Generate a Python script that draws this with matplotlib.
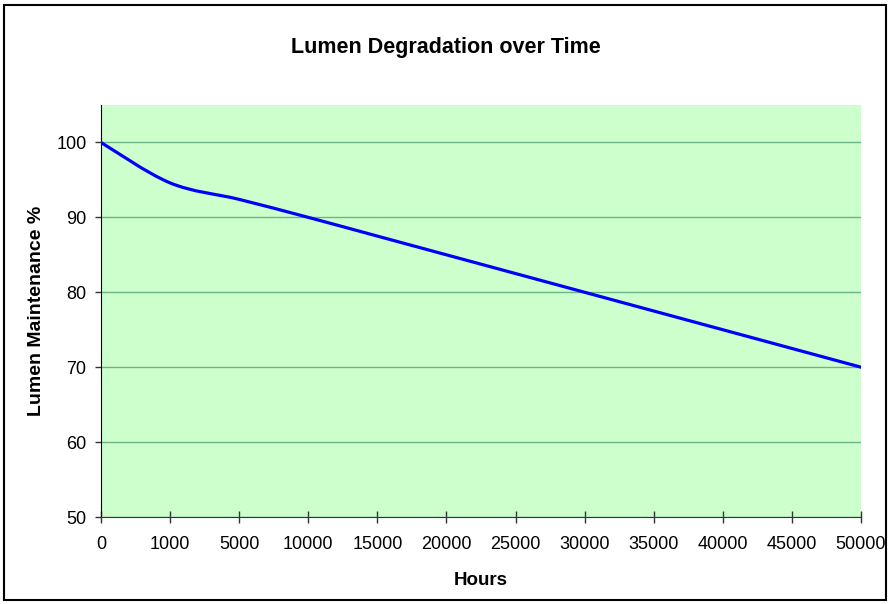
import numpy as np
import matplotlib
matplotlib.use("Agg")
import matplotlib.pyplot as plt
from matplotlib.path import Path
from matplotlib.patches import PathPatch, Rectangle

# chart data (category axis, as in the original spreadsheet chart)
hours = ["0", "1000", "5000", "10000", "15000", "20000", "25000",
         "30000", "35000", "40000", "45000", "50000"]
lumen_pct = [100, 94.6, 92.4, 90, 87.5, 85, 82.5, 80, 77.5, 75, 72.5, 70]
y_ticks = [50, 60, 70, 80, 90, 100]

plt.rcParams["font.family"] = ["Liberation Sans", "DejaVu Sans"]


def smooth_path(xs, ys):
    """Excel-style smoothed line: cubic Bezier segments through each point."""
    pts = np.column_stack([xs, ys]).astype(float)
    padded = np.vstack([pts[0], pts, pts[-1]])
    verts = [pts[0]]
    codes = [Path.MOVETO]
    for i in range(len(pts) - 1):
        p0, p1, p2, p3 = padded[i], padded[i + 1], padded[i + 2], padded[i + 3]
        c1 = p1 + (p2 - p0) / 6
        c2 = p2 - (p3 - p1) / 6
        verts += [c1, c2, p2]
        codes += [Path.CURVE4] * 3
    return Path(verts, codes)


def plot_data():
    fig = plt.figure(figsize=(8.91, 6.04), dpi=100)
    ax = fig.add_axes([101 / 891, 87 / 604, 760 / 891, 412 / 604])
    ax.set_facecolor("#ccffcc")

    x = np.arange(len(hours))
    ax.add_patch(PathPatch(smooth_path(x, lumen_pct), facecolor="none",
                           edgecolor="#0000ff", lw=2.3, zorder=3,
                           capstyle="round", joinstyle="round"))

    ax.set_xlim(0, len(hours) - 1)
    ax.set_ylim(50, 105)
    ax.set_xticks(x)
    ax.set_xticklabels(hours)
    ax.set_yticks(y_ticks)
    ax.yaxis.grid(True, color="#6cb485", lw=1)
    ax.set_axisbelow(True)

    for side in ["top", "right"]:
        ax.spines[side].set_visible(False)
    ax.spines["left"].set_color("black")
    ax.spines["bottom"].set_color("#333333")
    ax.tick_params(axis="x", direction="inout", length=9, width=1,
                   color="#333333", labelsize=13, pad=9)
    ax.tick_params(axis="y", direction="out", length=4.5, width=1,
                   color="#333333", labelsize=13, pad=6)

    ax.set_xlabel("Hours", fontsize=13.5, fontweight="bold", labelpad=14)
    ax.set_ylabel("Lumen Maintenance %", fontsize=14, fontweight="bold",
                  labelpad=8)
    fig.text(0.5, 1 - 47 / 604, "Lumen Degradation over Time", ha="center",
             va="center", fontsize=15.5, fontweight="bold")

    # chart border
    fig.add_artist(Rectangle((4 / 891, 4 / 604), 882 / 891, 595 / 604,
                             transform=fig.transFigure, fill=False,
                             edgecolor="black", lw=1.5))

    fig.savefig("out.png", dpi=100)


if __name__ == "__main__":
    plot_data()
